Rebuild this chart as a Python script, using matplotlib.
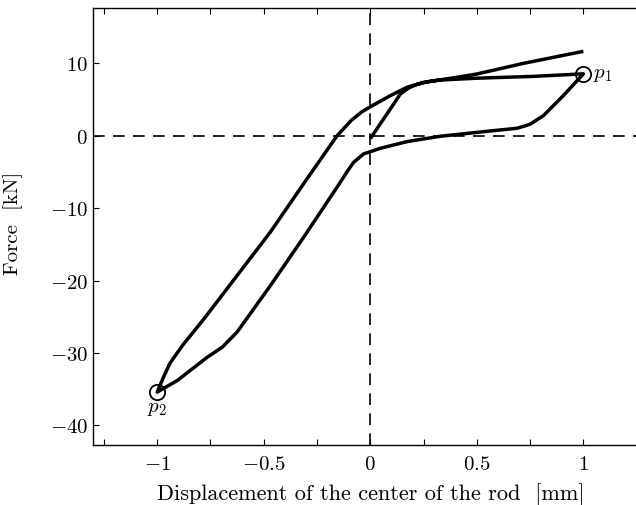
"""Force-displacement hysteresis loop of the rod center, redrawn with matplotlib."""

import matplotlib

matplotlib.use("Agg")
import matplotlib.pyplot as plt
from matplotlib.ticker import FixedLocator, MultipleLocator

# Initial loading, from the origin up to p1
load_x = [0.0, 0.094, 0.141, 0.18, 0.219, 0.27, 0.328, 0.5, 0.766, 1.0]
load_y = [-0.4, 3.7, 5.77, 6.6, 7.1, 7.45, 7.7, 7.95, 8.2, 8.55]

# Unloading, from p1 down to p2
unload_x = [1.0, 0.906, 0.8125, 0.75, 0.719, 0.687, 0.5625, 0.328, 0.172, 0.047,
            0.0, -0.031, -0.078, -0.11, -0.156, -0.3125, -0.469, -0.625,
            -0.695, -0.766, -0.906, -1.0]
unload_y = [8.55, 5.54, 2.78, 1.6, 1.3, 1.03, 0.66, -0.07, -0.81, -1.73,
            -2.2, -2.5, -3.66, -5.0, -7.1, -14.0, -20.7, -27.1,
            -29.2, -30.6, -33.8, -35.4]

# Reloading, from p2 back up past p1
reload_x = [-1.0, -0.97, -0.94, -0.88, -0.781, -0.625, -0.469, -0.3125, -0.156,
            -0.09, -0.04, 0.0, 0.094, 0.172, 0.25, 0.406, 0.5, 0.719, 1.0]
reload_y = [-35.4, -33.3, -31.4, -28.9, -25.3, -19.3, -13.3, -6.6, 0.0,
            2.1, 3.3, 4.0, 5.54, 6.69, 7.38, 8.07, 8.53, 10.0, 11.66]

# Marked turning points
point_names = ["$p_1$", "$p_2$"]
point_x = [1.0, -1.0]
point_y = [8.55, -35.4]

x_ticks = [-1.0, -0.5, 0.0, 0.5, 1.0]
x_tick_labels = ["$-1$", "$-0.5$", "$0$", "$0.5$", "$1$"]
y_ticks = [-40, -30, -20, -10, 0, 10]
y_tick_labels = ["$-40$", "$-30$", "$-20$", "$-10$", "$0$", "$10$"]

plt.rcParams["font.family"] = "serif"
plt.rcParams["font.serif"] = ["cmr10", "DejaVu Serif"]
plt.rcParams["mathtext.fontset"] = "cm"
plt.rcParams["font.size"] = 15

fig = plt.figure(figsize=(6.36, 5.06), dpi=100)
ax = fig.add_axes([0.1467, 0.1186, 0.8543, 0.863])

# Dashed zero lines
ax.axhline(0, color="black", lw=1.2, ls=(0, (7, 5)), zorder=1)
ax.axvline(0, color="black", lw=1.2, ls=(0, (7, 5)), zorder=1)

curve_x = load_x + unload_x[1:] + reload_x[1:]
curve_y = load_y + unload_y[1:] + reload_y[1:]
ax.plot(curve_x, curve_y, color="black", lw=2.5, solid_joinstyle="round",
        solid_capstyle="butt", zorder=3)

ax.plot(point_x, point_y, ls="none", marker="o", ms=11, mfc="none",
        mec="black", mew=1.3, zorder=4)
ax.annotate(point_names[0], xy=(point_x[0], point_y[0]), xytext=(7, 0),
            textcoords="offset points", ha="left", va="center", fontsize=15)
ax.annotate(point_names[1], xy=(point_x[1], point_y[1]), xytext=(0, -5),
            textcoords="offset points", ha="center", va="top", fontsize=15)

ax.set_xlim(-1.3, 1.25)
ax.set_ylim(-42.7, 17.6)

ax.xaxis.set_major_locator(FixedLocator(x_ticks))
ax.set_xticklabels(x_tick_labels)
ax.xaxis.set_minor_locator(MultipleLocator(0.25))
ax.set_yticks(y_ticks)
ax.set_yticklabels(y_tick_labels)

ax.tick_params(axis="x", which="both", direction="in", top=True, bottom=True,
               length=4, width=0.8, pad=7)
ax.tick_params(axis="y", which="both", direction="in", left=True, right=False,
               length=4, width=0.8, pad=4)
for side in ax.spines.values():
    side.set_linewidth(1.0)

ax.set_xlabel("Displacement of the center of the rod  [mm]", fontsize=16)
ax.set_ylabel("Force  [kN]", fontsize=15)
ax.xaxis.set_label_coords(0.511, -0.085)
ax.yaxis.set_label_coords(-0.129, 0.51)

fig.savefig("out.png", dpi=100)
plt.close(fig)
